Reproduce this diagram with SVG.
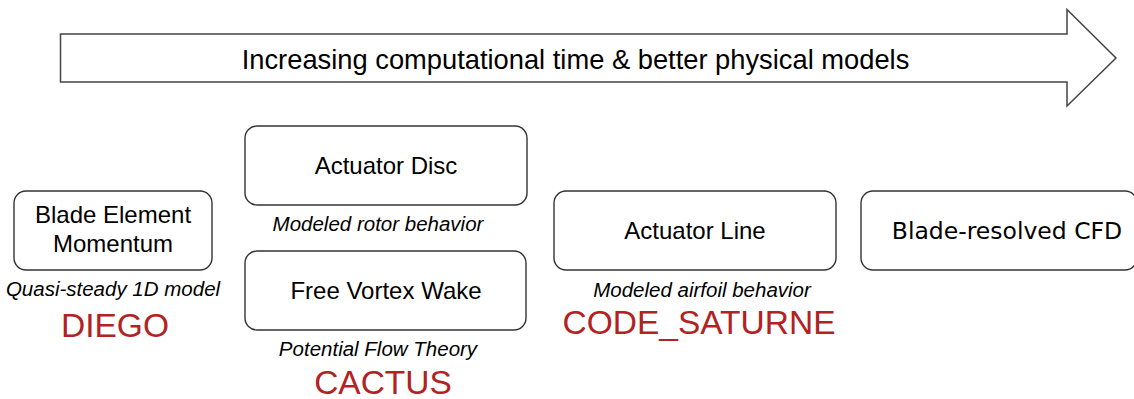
<svg xmlns="http://www.w3.org/2000/svg" width="1134" height="399" viewBox="0 0 1134 399">
<style>
.box{fill:#fff;stroke:#333;stroke-width:1.4}
.t{font-family:"Liberation Sans",Arial,sans-serif;font-size:24px;fill:#000;text-anchor:middle}
.i{font-family:"Liberation Sans",Arial,sans-serif;font-size:20.5px;font-style:italic;fill:#000;text-anchor:middle}
.r{font-family:"Liberation Sans",Arial,sans-serif;font-size:33.5px;fill:#b22222;text-anchor:middle}
</style>
<rect width="1134" height="399" fill="#fff"/>
<g id="arrow">
<path d="M60.5,34 H1067 V9.5 L1116,58 L1067,106 V82 H60.5 Z" fill="#fff" stroke="#444" stroke-width="1.5"/>
<text x="575.5" y="69" style="font-family:'Liberation Sans',Arial,sans-serif;font-size:27.3px;fill:#000;text-anchor:middle">Increasing computational time &amp; better physical models</text>
</g>
<g id="connectors"></g>
<g id="bem">
<rect class="box" x="14" y="191" width="198" height="79" rx="12"/>
<text class="t" x="113" y="223">Blade Element</text>
<text class="t" x="113" y="252">Momentum</text>
<text class="i" x="113" y="296">Quasi-steady 1D model</text>
<text class="r" x="115" y="337">DIEGO</text>
</g>
<g id="actuator-disc">
<rect class="box" x="245" y="126" width="282" height="79" rx="12"/>
<text class="t" x="386" y="174">Actuator Disc</text>
<text class="i" x="378" y="231">Modeled rotor behavior</text>
</g>
<g id="free-vortex">
<rect class="box" x="245" y="251" width="281" height="79" rx="12"/>
<text class="t" x="386" y="299">Free Vortex Wake</text>
<text class="i" x="378" y="356">Potential Flow Theory</text>
<text class="r" x="383" y="394">CACTUS</text>
</g>
<g id="actuator-line">
<rect class="box" x="554" y="191" width="282" height="79" rx="12"/>
<text class="t" x="695" y="239">Actuator Line</text>
<text class="i" x="702" y="297">Modeled airfoil behavior</text>
<text class="r" x="699" y="334">CODE_SATURNE</text>
</g>
<g id="blade-resolved">
<rect class="box" x="861" y="191" width="276" height="79" rx="12"/>
<text x="1007" y="239" style="font-family:'DejaVu Sans',sans-serif;font-size:23.5px;fill:#000;text-anchor:middle">Blade-resolved CFD</text>
</g>
</svg>
